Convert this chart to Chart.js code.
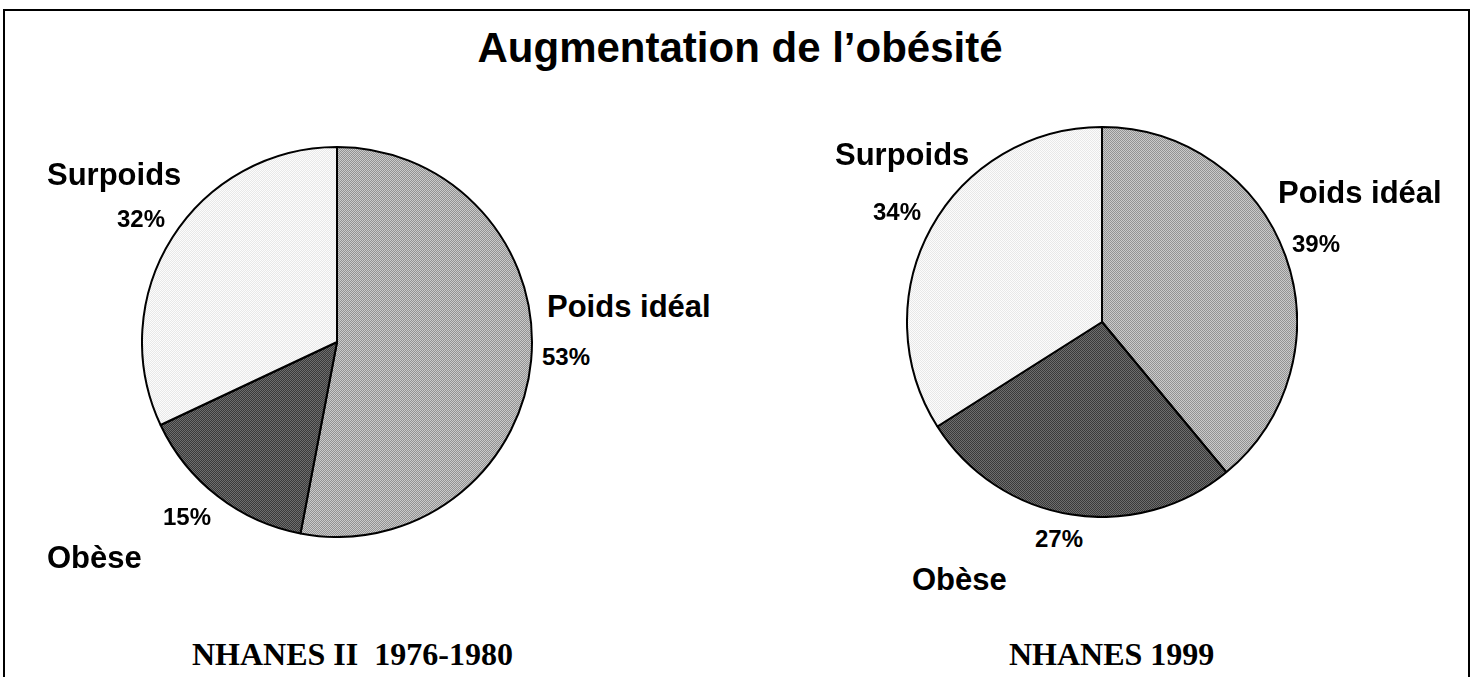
<!DOCTYPE html>
<html>
<head>
<meta charset="utf-8">
<script src="https://cdn.jsdelivr.net/npm/chart.js@4/dist/chart.umd.min.js"></script>
<style>
  html, body { margin: 0; padding: 0; background: #fff; width: 1473px; height: 677px; overflow: hidden; }
  #frame { position: absolute; left: 3px; top: 9px; width: 1467px; height: 700px; border: 2px solid #000; box-sizing: border-box; }
  canvas { position: absolute; }
  .t { position: absolute; white-space: pre; color: #000; font-family: "Liberation Sans", Arial, Helvetica, sans-serif; font-weight: bold; line-height: 1; }
  .serif { font-family: "Liberation Serif", "Times New Roman", serif; }
</style>
</head>
<body>
<div id="frame"></div>
<canvas id="pie1" width="392" height="392" style="left:141px;top:146px;width:392px;height:392px"></canvas>
<canvas id="pie2" width="392" height="392" style="left:906px;top:126px;width:392px;height:392px"></canvas>
<div id="texts"></div>
<script>
// ---- data ----
const categories = ["Poids idéal", "Obèse", "Surpoids"];
const values1976 = [53, 15, 32];
const values1999 = [39, 27, 34];
const chartTitle = "Augmentation de l\u2019obésité";
const captions = ["NHANES II  1976-1980", "NHANES 1999"];

// ---- fills (dithered greys like the original print) ----
function dither(a, b) {
  const c = document.createElement('canvas');
  c.width = 2; c.height = 2;
  const g = c.getContext('2d');
  g.fillStyle = a; g.fillRect(0, 0, 2, 2);
  g.fillStyle = b; g.fillRect(0, 0, 1, 1); g.fillRect(1, 1, 1, 1);
  return g.createPattern(c, 'repeat');
}
const fills = [dither('#cacaca', '#929292'), dither('#6e6e6e', '#3a3a3a'), dither('#fcfcfc', '#e8e8e8')];

function makePie(id, values) {
  return new Chart(document.getElementById(id), {
    type: 'pie',
    data: {
      labels: categories,
      datasets: [{ data: values, backgroundColor: fills, borderColor: '#000', borderWidth: 2 }]
    },
    options: {
      responsive: false,
      animation: false,
      layout: { padding: 0 },
      plugins: { legend: { display: false }, tooltip: { enabled: false }, title: { display: false } }
    }
  });
}
makePie('pie1', values1976);
makePie('pie2', values1999);

// ---- text layout (left x, baseline y, size) ----
const texts = document.getElementById('texts');
function addText(str, x, baseline, size, cls, center) {
  const d = document.createElement('div');
  d.className = 't' + (cls ? ' ' + cls : '');
  d.textContent = str;
  d.style.fontSize = size + 'px';
  const asc = cls === 'serif' ? 0.8375 : 0.8465;
  d.style.top = (baseline - asc * size) + 'px';
  texts.appendChild(d);
  if (center) d.style.left = (x - d.offsetWidth / 2) + 'px';
  else d.style.left = x + 'px';
}
const pct = v => v + '%';
addText(chartTitle, 740, 63, 42, '', true);
// left pie
addText(categories[2], 47, 185, 31);
addText(pct(values1976[2]), 117, 227, 24);
addText(categories[0], 547, 317, 31);
addText(pct(values1976[0]), 542, 365, 24);
addText(pct(values1976[1]), 163, 525, 24);
addText(categories[1], 47, 568, 31);
// right pie
addText(categories[2], 835, 165, 31);
addText(pct(values1999[2]), 873, 220, 24);
addText(categories[0], 1278, 203, 31);
addText(pct(values1999[0]), 1292, 252, 24);
addText(pct(values1999[1]), 1035, 547, 24);
addText(categories[1], 912, 590, 31);
// captions
addText(captions[0], 192, 665, 32, 'serif');
addText(captions[1], 1009, 665, 32, 'serif');
</script>
</body>
</html>
